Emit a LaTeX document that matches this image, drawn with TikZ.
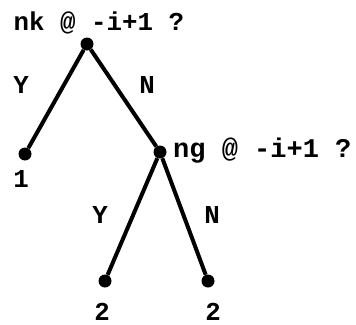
\documentclass[tikz,border=0pt]{standalone}
\usepackage{fontspec}
\setmonofont{Liberation Mono}

\begin{document}
\begin{tikzpicture}[x=1pt,y=-1pt,
    font=\ttfamily\bfseries\fontsize{25.8}{26}\selectfont,
    dot/.style={circle,fill=black,inner sep=0pt,minimum size=13pt},
    lbl/.style={anchor=base,inner sep=0pt},
    branch/.style={line width=4pt}]
  \useasboundingbox (0,0) rectangle (356,324);
  % decision points and leaves
  \node[dot] (root)      at (87,44)   {};
  \node[dot] (leafone)   at (25,154)  {};
  \node[dot] (inner)     at (160,152) {};
  \node[dot] (leaftwo)   at (105,281) {};
  \node[dot] (leafthree) at (208,281) {};
  \draw[branch] (root)  -- (leafone);
  \draw[branch] (root)  -- (inner);
  \draw[branch] (inner) -- (leaftwo);
  \draw[branch] (inner) -- (leafthree);
  % questions
  \node[lbl,anchor=base west] (qone) at (13.5,30)  {nk @ -i+1 ?};
  \node[lbl,anchor=base west,font=\ttfamily\bfseries\fontsize{27}{27}\selectfont]
    (qtwo) at (173,157) {ng @ -i+1 ?};
  % branch labels
  \node[lbl] (yone) at (21,93)   {Y};
  \node[lbl] (none) at (147,93)  {N};
  \node[lbl] (ytwo) at (100,223) {Y};
  \node[lbl] (ntwo) at (212,223) {N};
  % outcomes
  \node[lbl] (vone)   at (21,187)  {1};
  \node[lbl] (vtwo)   at (102,320) {2};
  \node[lbl] (vthree) at (213,320) {2};
\end{tikzpicture}
\end{document}
